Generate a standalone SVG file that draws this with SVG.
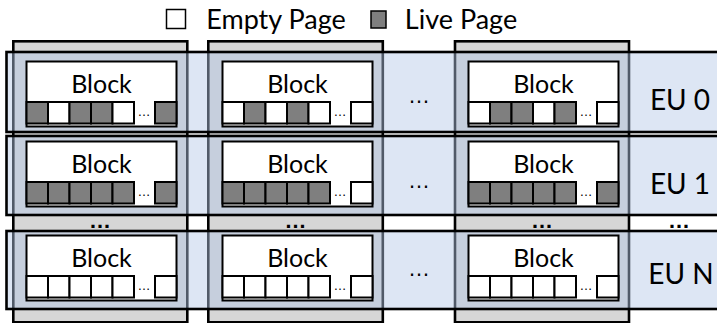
<svg xmlns="http://www.w3.org/2000/svg" width="717" height="323" viewBox="0 0 717 323">
<style>
.col{fill:#d6d6d6;stroke:#000;stroke-width:2.6}
.row{fill:#b4c7e7;fill-opacity:0.45;stroke:#000;stroke-width:2.6}
.blk{fill:#fff;stroke:#000;stroke-width:2}
.w{fill:#fff;stroke:#000;stroke-width:2}
.g{fill:#7f7f7f;stroke:#000;stroke-width:2}
.t{font-family:Lato,"Liberation Sans",sans-serif;fill:#000;text-anchor:middle}
.bl{font-size:25px}
.eu{font-size:28px}
.lg{font-size:27px}
.sd{font-family:"Liberation Sans",sans-serif;font-size:13px;fill:#000;text-anchor:middle}
.bd{font-family:"Liberation Sans",sans-serif;font-size:22px;fill:#000;text-anchor:middle}
.gd{font-family:"Liberation Sans",sans-serif;font-size:22px;font-weight:bold;fill:#000;text-anchor:middle}
</style>
<defs>
<g id="blk">
<rect class="blk" x="0" y="0" width="150" height="65"/>
</g>
</defs>
<g id="legend">
<rect x="166.5" y="9.5" width="19" height="19" fill="#fff" stroke="#000" stroke-width="1.5"/>
<text class="t lg" x="276" y="29">Empty Page</text>
<rect x="371" y="11" width="15" height="17" fill="#7f7f7f" stroke="#000" stroke-width="1.5"/>
<text class="t lg" x="461" y="29">Live Page</text>
</g>
<g id="columns">
<rect id="col0" class="col" x="13.3" y="41.3" width="174" height="281"/>
<rect id="col1" class="col" x="208.3" y="41.3" width="174.5" height="281"/>
<rect id="col2" class="col" x="455" y="41.3" width="174" height="281"/>
</g>
<g id="rows">
<rect id="row0" class="row" x="6.5" y="52" width="720" height="80"/>
<rect id="row1" class="row" x="6.5" y="136" width="720" height="79"/>
<rect id="rowN" class="row" x="6.5" y="231" width="720" height="78"/>
</g>
<g id="blocks">
<g id="b00" transform="translate(26.5,61.5)"><use href="#blk"/>
<rect class="g" x="0" y="40.5" width="21.5" height="21.5"/><rect class="w" x="21.5" y="40.5" width="21.5" height="21.5"/><rect class="g" x="43" y="40.5" width="21.5" height="21.5"/><rect class="g" x="64.5" y="40.5" width="21.5" height="21.5"/><rect class="w" x="86" y="40.5" width="21.5" height="21.5"/><rect class="g" x="128.5" y="40.5" width="21.5" height="21.5"/>
<text class="sd" x="117.5" y="54">…</text><text class="t bl" x="75" y="31">Block</text></g>
<g id="b01" transform="translate(222.5,61.5)"><use href="#blk"/>
<rect class="w" x="0" y="40.5" width="21.5" height="21.5"/><rect class="g" x="21.5" y="40.5" width="21.5" height="21.5"/><rect class="w" x="43" y="40.5" width="21.5" height="21.5"/><rect class="g" x="64.5" y="40.5" width="21.5" height="21.5"/><rect class="w" x="86" y="40.5" width="21.5" height="21.5"/><rect class="w" x="128.5" y="40.5" width="21.5" height="21.5"/>
<text class="sd" x="117.5" y="54">…</text><text class="t bl" x="75" y="31">Block</text></g>
<g id="b02" transform="translate(468.5,61.5)"><use href="#blk"/>
<rect class="w" x="0" y="40.5" width="21.5" height="21.5"/><rect class="g" x="21.5" y="40.5" width="21.5" height="21.5"/><rect class="g" x="43" y="40.5" width="21.5" height="21.5"/><rect class="w" x="64.5" y="40.5" width="21.5" height="21.5"/><rect class="g" x="86" y="40.5" width="21.5" height="21.5"/><rect class="w" x="128.5" y="40.5" width="21.5" height="21.5"/>
<text class="sd" x="117.5" y="54">…</text><text class="t bl" x="75" y="31">Block</text></g>
<g id="b10" transform="translate(26.5,141.5)"><use href="#blk"/>
<rect class="g" x="0" y="40.5" width="21.5" height="21.5"/><rect class="g" x="21.5" y="40.5" width="21.5" height="21.5"/><rect class="g" x="43" y="40.5" width="21.5" height="21.5"/><rect class="g" x="64.5" y="40.5" width="21.5" height="21.5"/><rect class="g" x="86" y="40.5" width="21.5" height="21.5"/><rect class="g" x="128.5" y="40.5" width="21.5" height="21.5"/>
<text class="sd" x="117.5" y="54">…</text><text class="t bl" x="75" y="31">Block</text></g>
<g id="b11" transform="translate(222.5,141.5)"><use href="#blk"/>
<rect class="g" x="0" y="40.5" width="21.5" height="21.5"/><rect class="g" x="21.5" y="40.5" width="21.5" height="21.5"/><rect class="g" x="43" y="40.5" width="21.5" height="21.5"/><rect class="g" x="64.5" y="40.5" width="21.5" height="21.5"/><rect class="g" x="86" y="40.5" width="21.5" height="21.5"/><rect class="w" x="128.5" y="40.5" width="21.5" height="21.5"/>
<text class="sd" x="117.5" y="54">…</text><text class="t bl" x="75" y="31">Block</text></g>
<g id="b12" transform="translate(468.5,141.5)"><use href="#blk"/>
<rect class="g" x="0" y="40.5" width="21.5" height="21.5"/><rect class="g" x="21.5" y="40.5" width="21.5" height="21.5"/><rect class="g" x="43" y="40.5" width="21.5" height="21.5"/><rect class="g" x="64.5" y="40.5" width="21.5" height="21.5"/><rect class="g" x="86" y="40.5" width="21.5" height="21.5"/><rect class="g" x="128.5" y="40.5" width="21.5" height="21.5"/>
<text class="sd" x="117.5" y="54">…</text><text class="t bl" x="75" y="31">Block</text></g>
<g id="bN0" transform="translate(26.5,235.5)"><use href="#blk"/>
<rect class="w" x="0" y="40.5" width="21.5" height="21.5"/><rect class="w" x="21.5" y="40.5" width="21.5" height="21.5"/><rect class="w" x="43" y="40.5" width="21.5" height="21.5"/><rect class="w" x="64.5" y="40.5" width="21.5" height="21.5"/><rect class="w" x="86" y="40.5" width="21.5" height="21.5"/><rect class="w" x="128.5" y="40.5" width="21.5" height="21.5"/>
<text class="sd" x="117.5" y="54">…</text><text class="t bl" x="75" y="31">Block</text></g>
<g id="bN1" transform="translate(222.5,235.5)"><use href="#blk"/>
<rect class="w" x="0" y="40.5" width="21.5" height="21.5"/><rect class="w" x="21.5" y="40.5" width="21.5" height="21.5"/><rect class="w" x="43" y="40.5" width="21.5" height="21.5"/><rect class="w" x="64.5" y="40.5" width="21.5" height="21.5"/><rect class="w" x="86" y="40.5" width="21.5" height="21.5"/><rect class="w" x="128.5" y="40.5" width="21.5" height="21.5"/>
<text class="sd" x="117.5" y="54">…</text><text class="t bl" x="75" y="31">Block</text></g>
<g id="bN2" transform="translate(468.5,235.5)"><use href="#blk"/>
<rect class="w" x="0" y="40.5" width="21.5" height="21.5"/><rect class="w" x="21.5" y="40.5" width="21.5" height="21.5"/><rect class="w" x="43" y="40.5" width="21.5" height="21.5"/><rect class="w" x="64.5" y="40.5" width="21.5" height="21.5"/><rect class="w" x="86" y="40.5" width="21.5" height="21.5"/><rect class="w" x="128.5" y="40.5" width="21.5" height="21.5"/>
<text class="sd" x="117.5" y="54">…</text><text class="t bl" x="75" y="31">Block</text></g>
</g>
<g id="labels">
<text class="bd" x="419" y="103">…</text>
<text class="bd" x="419" y="188">…</text>
<text class="bd" x="419" y="276">…</text>
<text class="gd" x="100" y="228">…</text>
<text class="gd" x="295.5" y="228">…</text>
<text class="gd" x="542" y="228">…</text>
<text class="gd" x="679" y="228">…</text>
<text class="t eu" x="680" y="110">EU 0</text>
<text class="t eu" x="680" y="194">EU 1</text>
<text class="t eu" x="681" y="284">EU N</text>
</g>
</svg>
